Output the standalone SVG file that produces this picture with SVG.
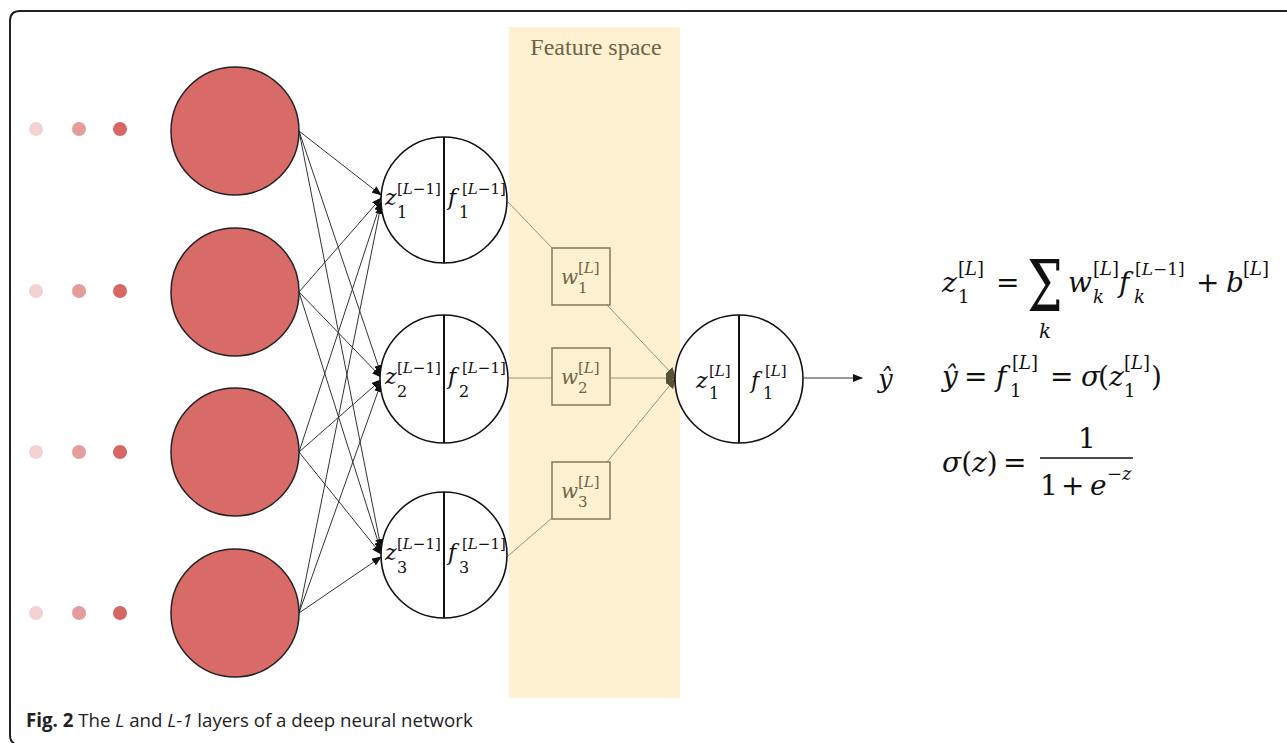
<svg xmlns="http://www.w3.org/2000/svg" width="1287" height="743" viewBox="0 0 1287 743">
<defs>
<marker id="ah" markerUnits="userSpaceOnUse" markerWidth="10" markerHeight="8" refX="9" refY="4" orient="auto"><path d="M0,0 L10,4 L0,8 Z" fill="#111"/></marker>
<marker id="ah2" markerUnits="userSpaceOnUse" markerWidth="10" markerHeight="10" refX="9" refY="5" orient="auto"><path d="M0,0 L10,5 L0,10 Z" fill="#5a5034"/></marker>
<style>
.big{fill:#d86a68;stroke:#222;stroke-width:1.5}
.node{fill:#fff;stroke:#111;stroke-width:1.6}
.div{stroke:#111;stroke-width:2}
.conn{stroke:#333;stroke-width:1;fill:none}
.fconn{stroke:#9c9070;stroke-width:1;fill:none}
.wbox{fill:none;stroke:#857a55;stroke-width:1.5}
.m{font-family:"DejaVu Serif","Liberation Serif",serif;fill:#111}
.i{font-style:italic}
.wt{font-family:"DejaVu Serif","Liberation Serif",serif;fill:#6e6548}
.cap{font-family:"Open Sans","Noto Sans",sans-serif;font-size:18.7px;fill:#222}
</style>
</defs>
<rect width="1287" height="743" fill="#fff"/>
<path d="M15,744 Q10,742 10,735 V21 Q10,11 20,11 H1287" fill="none" stroke="#222" stroke-width="2"/>
<rect id="feature-space" x="509" y="27" width="171" height="671" fill="#fdf1d2"/>
<text x="596" y="55" font-family="Liberation Serif, serif" font-size="24" fill="#6e6548" text-anchor="middle">Feature space</text>

<g id="dots">
<g fill="#f4d2d2"><circle cx="36" cy="129" r="7"/><circle cx="36" cy="291" r="7"/><circle cx="36" cy="452" r="7"/><circle cx="36" cy="613" r="7"/></g>
<g fill="#e49d9c"><circle cx="79" cy="129" r="7"/><circle cx="79" cy="291" r="7"/><circle cx="79" cy="452" r="7"/><circle cx="79" cy="613" r="7"/></g>
<g fill="#d86664"><circle cx="120" cy="129" r="7"/><circle cx="120" cy="291" r="7"/><circle cx="120" cy="452" r="7"/><circle cx="120" cy="613" r="7"/></g>
</g>

<g id="connectors">
<g class="conn" marker-end="url(#ah)">
<line x1="299" y1="131" x2="381" y2="195"/>
<line x1="299" y1="131" x2="381" y2="374"/>
<line x1="299" y1="131" x2="381" y2="548"/>
<line x1="299" y1="292" x2="381" y2="198"/>
<line x1="299" y1="292" x2="381" y2="377"/>
<line x1="299" y1="292" x2="381" y2="551"/>
<line x1="299" y1="452" x2="381" y2="202"/>
<line x1="299" y1="452" x2="381" y2="380"/>
<line x1="299" y1="452" x2="381" y2="554"/>
<line x1="299" y1="613" x2="381" y2="205"/>
<line x1="299" y1="613" x2="381" y2="383"/>
<line x1="299" y1="613" x2="381" y2="557"/>
</g>
<g class="fconn">
<line x1="508" y1="202" x2="552" y2="248"/>
<line x1="508" y1="378" x2="552" y2="378"/>
<line x1="508" y1="556" x2="552" y2="518"/>
</g>
<g class="fconn" marker-end="url(#ah2)">
<line x1="607" y1="305" x2="675" y2="377"/>
<line x1="611" y1="378" x2="675" y2="378"/>
<line x1="607" y1="462" x2="675" y2="379"/>
</g>
<line x1="804" y1="378" x2="862" y2="378" stroke="#333" stroke-width="1.2" marker-end="url(#ah)"/>
</g>

<g id="in1"><circle class="big" cx="235" cy="131" r="64"/></g>
<g id="in2"><circle class="big" cx="235" cy="292" r="64"/></g>
<g id="in3"><circle class="big" cx="235" cy="452" r="64"/></g>
<g id="in4"><circle class="big" cx="235" cy="613" r="64"/></g>

<g id="h1">
<circle class="node" cx="444" cy="200" r="63"/><line class="div" x1="444" y1="137" x2="444" y2="263"/>
<text class="m i" x="385" y="205" font-size="22">z</text>
<text class="m" x="397" y="194" font-size="15">[<tspan class="i">L</tspan>−1]</text>
<text class="m" x="397" y="218" font-size="16">1</text>
<text class="m i" x="448" y="205" font-size="22">f</text>
<text class="m" x="462" y="194" font-size="15">[<tspan class="i">L</tspan>−1]</text>
<text class="m" x="459" y="218" font-size="16">1</text>
</g>
<g id="h2">
<circle class="node" cx="444" cy="379" r="64"/><line class="div" x1="444" y1="315" x2="444" y2="443"/>
<text class="m i" x="385" y="384" font-size="22">z</text>
<text class="m" x="397" y="373" font-size="15">[<tspan class="i">L</tspan>−1]</text>
<text class="m" x="397" y="397" font-size="16">2</text>
<text class="m i" x="448" y="384" font-size="22">f</text>
<text class="m" x="462" y="373" font-size="15">[<tspan class="i">L</tspan>−1]</text>
<text class="m" x="459" y="397" font-size="16">2</text>
</g>
<g id="h3">
<circle class="node" cx="444" cy="555" r="63"/><line class="div" x1="444" y1="492" x2="444" y2="618"/>
<text class="m i" x="385" y="560" font-size="22">z</text>
<text class="m" x="397" y="549" font-size="15">[<tspan class="i">L</tspan>−1]</text>
<text class="m" x="397" y="573" font-size="16">3</text>
<text class="m i" x="448" y="560" font-size="22">f</text>
<text class="m" x="462" y="549" font-size="15">[<tspan class="i">L</tspan>−1]</text>
<text class="m" x="459" y="573" font-size="16">3</text>
</g>

<g id="w1"><rect class="wbox" x="552" y="248" width="58" height="57"/>
<text class="wt i" x="561" y="284" font-size="20">w</text>
<text class="wt" x="578" y="273" font-size="15">[<tspan class="i">L</tspan>]</text>
<text class="wt" x="578" y="293" font-size="15">1</text></g>
<g id="w2"><rect class="wbox" x="552" y="348" width="58" height="57"/>
<text class="wt i" x="561" y="384" font-size="20">w</text>
<text class="wt" x="578" y="373" font-size="15">[<tspan class="i">L</tspan>]</text>
<text class="wt" x="578" y="393" font-size="15">2</text></g>
<g id="w3"><rect class="wbox" x="552" y="462" width="58" height="57"/>
<text class="wt i" x="561" y="498" font-size="20">w</text>
<text class="wt" x="578" y="487" font-size="15">[<tspan class="i">L</tspan>]</text>
<text class="wt" x="578" y="507" font-size="15">3</text></g>

<g id="out">
<circle class="node" cx="739" cy="379" r="64"/><line class="div" x1="739" y1="315" x2="739" y2="443"/>
<text class="m i" x="696" y="388" font-size="22">z</text>
<text class="m" x="709" y="376" font-size="15">[<tspan class="i">L</tspan>]</text>
<text class="m" x="709" y="399" font-size="16">1</text>
<text class="m i" x="751" y="388" font-size="22">f</text>
<text class="m" x="765" y="376" font-size="15">[<tspan class="i">L</tspan>]</text>
<text class="m" x="763" y="399" font-size="16">1</text>
</g>
<g id="yhat"><text class="m i" x="878" y="388" font-size="26">ŷ</text></g>

<g id="equations">
<text class="m i" x="942" y="292" font-size="28">z</text>
<text class="m" x="958" y="275" font-size="18">[<tspan class="i">L</tspan>]</text>
<text class="m" x="958" y="303" font-size="18">1</text>
<text class="m" x="996" y="292" font-size="28">=</text>
<text class="m" transform="translate(1045,311) scale(1,1.42)" x="0" y="0" font-size="50" text-anchor="middle">Σ</text>
<text class="m i" x="1045" y="338" font-size="20" text-anchor="middle">k</text>
<text class="m i" x="1068" y="292" font-size="28">w</text>
<text class="m" x="1093" y="275" font-size="18">[<tspan class="i">L</tspan>]</text>
<text class="m i" x="1093" y="303" font-size="18">k</text>
<text class="m i" x="1119" y="292" font-size="28">f</text>
<text class="m" x="1135" y="275" font-size="17">[<tspan class="i">L</tspan>−1]</text>
<text class="m i" x="1134" y="303" font-size="18">k</text>
<text class="m" x="1196" y="292" font-size="28">+</text>
<text class="m i" x="1226" y="292" font-size="28">b</text>
<text class="m" x="1243" y="275" font-size="18">[<tspan class="i">L</tspan>]</text>

<text class="m i" x="942" y="386" font-size="28">ŷ</text>
<text class="m" x="964" y="386" font-size="28">=</text>
<text class="m i" x="996" y="386" font-size="28">f</text>
<text class="m" x="1012" y="369" font-size="18">[<tspan class="i">L</tspan>]</text>
<text class="m" x="1010" y="397" font-size="18">1</text>
<text class="m" x="1050" y="386" font-size="28">=</text>
<text class="m i" x="1081" y="386" font-size="28">σ</text>
<text class="m" x="1098" y="386" font-size="28">(</text>
<text class="m i" x="1109" y="386" font-size="28">z</text>
<text class="m" x="1124" y="369" font-size="18">[<tspan class="i">L</tspan>]</text>
<text class="m" x="1124" y="397" font-size="18">1</text>
<text class="m" x="1151" y="386" font-size="28">)</text>

<text class="m" x="942" y="472" font-size="28"><tspan class="i">σ</tspan>(<tspan class="i">z</tspan>)</text>
<text class="m" x="1003" y="472" font-size="28">=</text>
<text class="m" x="1087" y="448" font-size="28" text-anchor="middle">1</text>
<line x1="1040" y1="458" x2="1133" y2="458" stroke="#111" stroke-width="1.6"/>
<text class="m" x="1040" y="495" font-size="28">1</text>
<text class="m" x="1061" y="495" font-size="28">+</text>
<text class="m i" x="1090" y="495" font-size="28">e</text>
<text class="m" x="1107" y="480" font-size="18">−<tspan class="i">z</tspan></text>
</g>

<g id="caption"><text class="cap" x="26" y="727"><tspan font-weight="bold">Fig. 2</tspan> The <tspan font-style="italic">L</tspan> and <tspan font-style="italic">L-1</tspan> layers of a deep neural network</text></g>
</svg>
